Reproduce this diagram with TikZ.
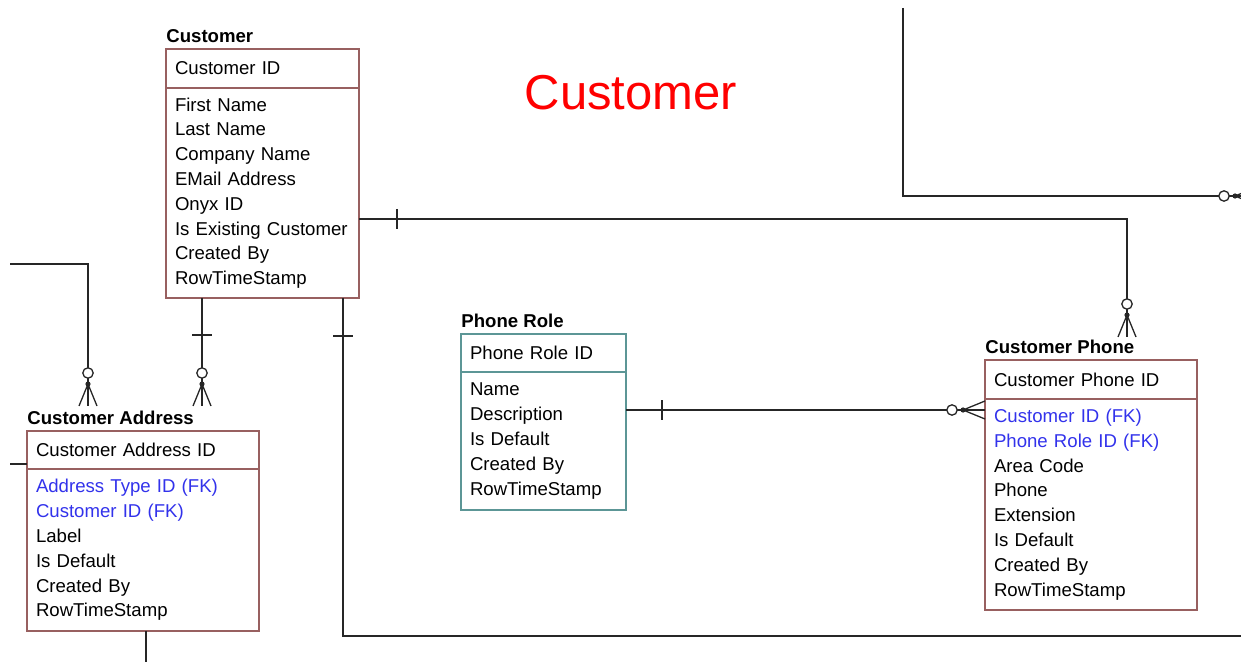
\documentclass[tikz,border=0pt]{standalone}
\usepackage{fontspec}
\setmainfont{Liberation Sans}
\usetikzlibrary{positioning}

\definecolor{entborder}{RGB}{152,96,96}
\definecolor{roleborder}{RGB}{92,150,150}
\definecolor{fkblue}{RGB}{50,50,235}

\tikzset{
  entfont/.style={font=\fontsize{9.3}{12.4}\selectfont},
  entbox/.style n args={2}{draw=entborder, line width=0.6pt, anchor=north west,
    entfont, align=left, inner xsep=4.5pt, inner ysep=0pt, outer sep=0pt,
    text width=#1, minimum height=#2},
  enttitle/.style={inner sep=0pt, font=\bfseries\fontsize{9.3}{12.4}\selectfont},
  link/.style={line width=0.65pt, black!85},
  zeromany/.pic={
    \draw[link] (-22,0) -- (0,-9) (-22,0) -- (0,9);
    \fill[black!85] (-22,0) circle[radius=1.3pt];
    \draw[link, fill=white] (-33,0) circle[radius=2.6pt];
  },
  onebar/.pic={\draw[link] (0,-10) -- (0,10);}
}

\begin{document}
\begin{tikzpicture}[x=0.5pt,y=-0.5pt]
\useasboundingbox (0,0) rectangle (1241,662);

\node[text=red, font=\fontsize{24.5}{28}\selectfont] (diagtitle) at (631,93) {Customer};

% Customer
\node[entbox={87.5pt}{19.5pt}] (custid) at (166,49) {Customer ID};
\node[entbox={87.5pt}{105pt}, below right=0pt and 0pt of custid.south west] (custattr)
  {First Name\\Last Name\\Company Name\\EMail Address\\Onyx ID\\Is Existing Customer\\Created By\\RowTimeStamp};
\node[enttitle, above right=3pt and 0pt of custid.north west] (cust) {Customer};

% Customer Address
\node[entbox={107pt}{19pt}] (addrid) at (27,431) {Customer Address ID};
\node[entbox={107pt}{81pt}, below right=0pt and 0pt of addrid.south west] (addrattr)
  {\textcolor{fkblue}{Address Type ID (FK)}\\\textcolor{fkblue}{Customer ID (FK)}\\Label\\Is Default\\Created By\\RowTimeStamp};
\node[enttitle, above right=3pt and 0pt of addrid.north west] (addr) {Customer Address};

% Phone Role
\node[entbox={73.5pt}{19pt}, draw=roleborder] (roleid) at (461,334) {Phone Role ID};
\node[entbox={73.5pt}{69pt}, draw=roleborder, below right=0pt and 0pt of roleid.south west] (roleattr)
  {Name\\Description\\Is Default\\Created By\\RowTimeStamp};
\node[enttitle, above right=3pt and 0pt of roleid.north west] (role) {Phone Role};

% Customer Phone
\node[entbox={97pt}{19.5pt}] (phoneid) at (985,360) {Customer Phone ID};
\node[entbox={97pt}{105.5pt}, below right=0pt and 0pt of phoneid.south west] (phoneattr)
  {\textcolor{fkblue}{Customer ID (FK)}\\\textcolor{fkblue}{Phone Role ID (FK)}\\Area Code\\Phone\\Extension\\Is Default\\Created By\\RowTimeStamp};
\node[enttitle, above right=3pt and 0pt of phoneid.north west] (phone) {Customer Phone};

% relationships
\coordinate (topin) at (903,8);
\coordinate (offright) at (1241,196);
\draw[link] (topin) |- (offright);
\path (1257,196) pic{zeromany};

\coordinate (phonebend) at (1127,219);
\coordinate (phonefoot) at (1127,337);
\draw[link] (custattr.east |- phonebend) -- (phonebend) -- (phonefoot);
\path (397,219) pic{onebar};
\path (phonefoot) pic[rotate=-90]{zeromany};

\coordinate (leftin) at (10,264);
\coordinate (addrfoota) at (88,406);
\draw[link] (leftin) -| (addrfoota);
\path (addrfoota) pic[rotate=-90]{zeromany};

\coordinate (addrfootb) at (202,406);
\draw[link] (custattr.south -| addrfootb) -- (addrfootb);
\path (202,335) pic[rotate=90]{onebar};
\path (addrfootb) pic[rotate=-90]{zeromany};

\coordinate (lowbend) at (343,636);
\coordinate (offbottom) at (1241,636);
\draw[link] (custattr.south -| lowbend) -- (lowbend) -- (offbottom);
\path (343,336) pic[rotate=90]{onebar};

\coordinate (rolefoot) at (985,410);
\draw[link] (roleattr.east |- rolefoot) -- (rolefoot);
\path (662,410) pic{onebar};
\path (rolefoot) pic{zeromany};

\coordinate (addrleft) at (10,464);
\draw[link] (addrleft) -- (addrid.west |- addrleft);
\coordinate (addrdown) at (146,662);
\draw[link] (addrattr.south -| addrdown) -- (addrdown);
\end{tikzpicture}
\end{document}
